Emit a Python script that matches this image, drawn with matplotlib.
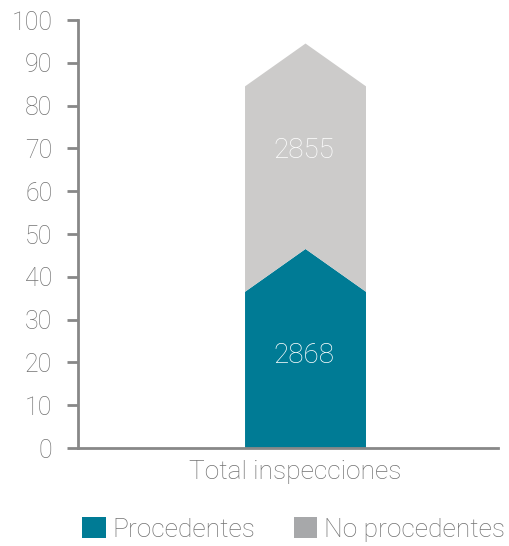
import matplotlib
matplotlib.use("Agg")
import matplotlib.pyplot as plt
from matplotlib.patches import Polygon, Patch

# ---- data ----
category = "Total inspecciones"
series_names = ["Procedentes", "No procedentes"]
counts = [2868, 2855]
side_heights = [36.5, 48.0]     # segment height at the bar's sides (axis units)
peak_rise = [10.0, 10.0]        # extra height of the chevron tip
y_ticks = [0, 10, 20, 30, 40, 50, 60, 70, 80, 90, 100]

colors = ["#007B95", "#CCCBCA"]
legend_colors = ["#007B95", "#A7A8AA"]
axis_color = "#888888"
text_color = "#727272"
font = "Roboto"
weight = "light"

fig = plt.figure(figsize=(5.10, 5.46), dpi=100)
ax = fig.add_axes([78/510, 1 - 448/546, 420/510, 428/546])

xc, w = 0.5417, 0.288
base = 0.0
for i, (h, rise) in enumerate(zip(side_heights, peak_rise)):
    lower_side = base
    lower_peak = base + (peak_rise[i-1] if i > 0 else 0.0)
    upper_side = base + h
    upper_peak = base + h + rise
    pts = [(xc - w/2, lower_side), (xc, lower_peak), (xc + w/2, lower_side),
           (xc + w/2, upper_side), (xc, upper_peak), (xc - w/2, upper_side)]
    ax.add_patch(Polygon(pts, closed=True, facecolor=colors[i], edgecolor="none", zorder=2))
    base = upper_side

label_y = [21.5, 69.6]
for cnt, ly in zip(counts, label_y):
    ax.text(xc - 0.005, ly, f"{cnt}", color="white", ha="center", va="center",
            fontsize=20, family=font, fontweight=weight, zorder=3)

ax.set_xlim(0, 1)
ax.set_ylim(0, 100)
ax.set_yticks(y_ticks)
ax.set_yticklabels([str(t) for t in y_ticks], family=font, fontweight=weight,
                   fontsize=18, color=text_color)
ax.set_xticks([xc - 0.024])
ax.set_xticklabels([category], family=font, fontweight=weight, fontsize=19, color=text_color)
ax.tick_params(axis="y", length=8, width=2, color=axis_color, pad=10.5)
ax.tick_params(axis="x", length=0, pad=9)
for s in ["top", "right"]:
    ax.spines[s].set_visible(False)
for s in ["left", "bottom"]:
    ax.spines[s].set_color(axis_color)
    ax.spines[s].set_linewidth(2)

handles = [Patch(facecolor=c, edgecolor="none") for c in legend_colors]
leg = fig.legend(handles, series_names, loc="center", bbox_to_anchor=(0.5755, 0.031),
                 ncol=2, frameon=False, handlelength=0.9, handleheight=0.9,
                 handletextpad=0.26, columnspacing=1.45, borderpad=0, borderaxespad=0,
                 prop={"family": font, "weight": weight, "size": 19})
for t in leg.get_texts():
    t.set_color(text_color)

fig.savefig("out.png", dpi=100)
